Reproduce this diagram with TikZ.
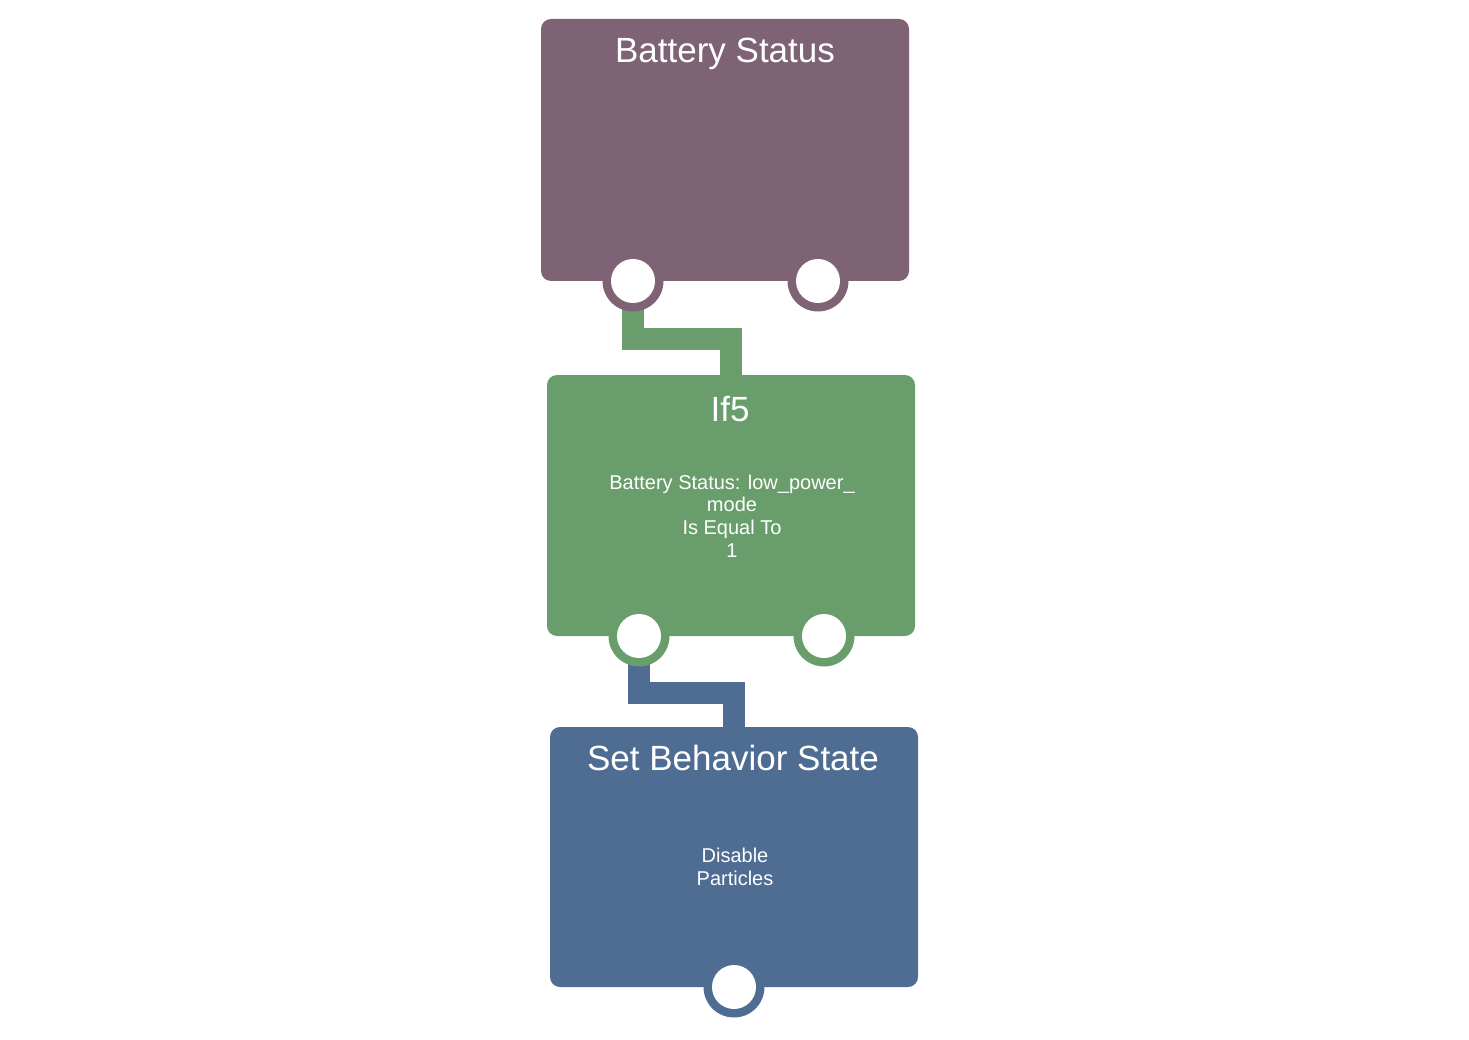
\documentclass[tikz,border=0pt]{standalone}
\usepackage{fontspec}
\setmainfont{Liberation Sans}
\pgfdeclarelayer{background}
\pgfsetlayers{background,main}
\definecolor{cpurple}{HTML}{7E6374}
\definecolor{cgreen}{HTML}{699D6B}
\definecolor{cblue}{HTML}{4F6C92}
\tikzset{
  box/.style={rounded corners=10pt, minimum width=368pt, inner sep=0pt, outer sep=0pt},
  porto/.style={circle, minimum size=61pt, inner sep=0pt, outer sep=0pt},
  porti/.style={circle, fill=white, minimum size=44pt, inner sep=0pt, outer sep=0pt},
  title/.style={text=white, anchor=base, font=\fontsize{35}{40}\selectfont},
  body/.style={text=white, align=center, font=\fontsize{20}{22.7}\selectfont},
  conn/.style={line width=22pt}
}
\begin{document}
\begin{tikzpicture}[x=1pt,y=-1pt]
\useasboundingbox (0,0) rectangle (1469,1040);
% boxes
\node[box, fill=cpurple, minimum height=262pt] (bs) at (725,150) {};
\node[box, fill=cgreen, minimum height=261pt] (if) at (731,505.5) {};
\node[box, fill=cblue, minimum height=260pt] (sb) at (734,857) {};
% ports (white centres)
\node[porti] (bsL) at (633,281) {};
\node[porti] (bsR) at (818,281) {};
\node[porti] (ifL) at (639,636) {};
\node[porti] (ifR) at (824,636) {};
\node[porti] (sbO) at (734,987) {};
% connectors and port rings underneath
\begin{pgfonlayer}{background}
\draw[conn, cgreen] (bsL.center) -- (bsL.center |- 0,339) -| (if.north);
\draw[conn, cblue] (ifL.center) -- (ifL.center |- 0,692.5) -| (sb.north);
\node[porto, fill=cpurple] (bsLr) at (bsL.center) {};
\node[porto, fill=cpurple] (bsRr) at (bsR.center) {};
\node[porto, fill=cgreen] (ifLr) at (ifL.center) {};
\node[porto, fill=cgreen] (ifRr) at (ifR.center) {};
\node[porto, fill=cblue] (sbOr) at (sbO.center) {};
\end{pgfonlayer}
% texts
\node[title] (bsT) at (725,63) {Battery Status};
\node[title] (ifT) at (730,421) {If5};
\node[title] (sbT) at (733,770) {Set Behavior State};
\node[body] (ifB) at (732,516) {Battery Status: low\_power\_\\mode\\Is Equal To\\1};
\node[body] (sbB) at (735,867) {Disable\\Particles};
\end{tikzpicture}
\end{document}
